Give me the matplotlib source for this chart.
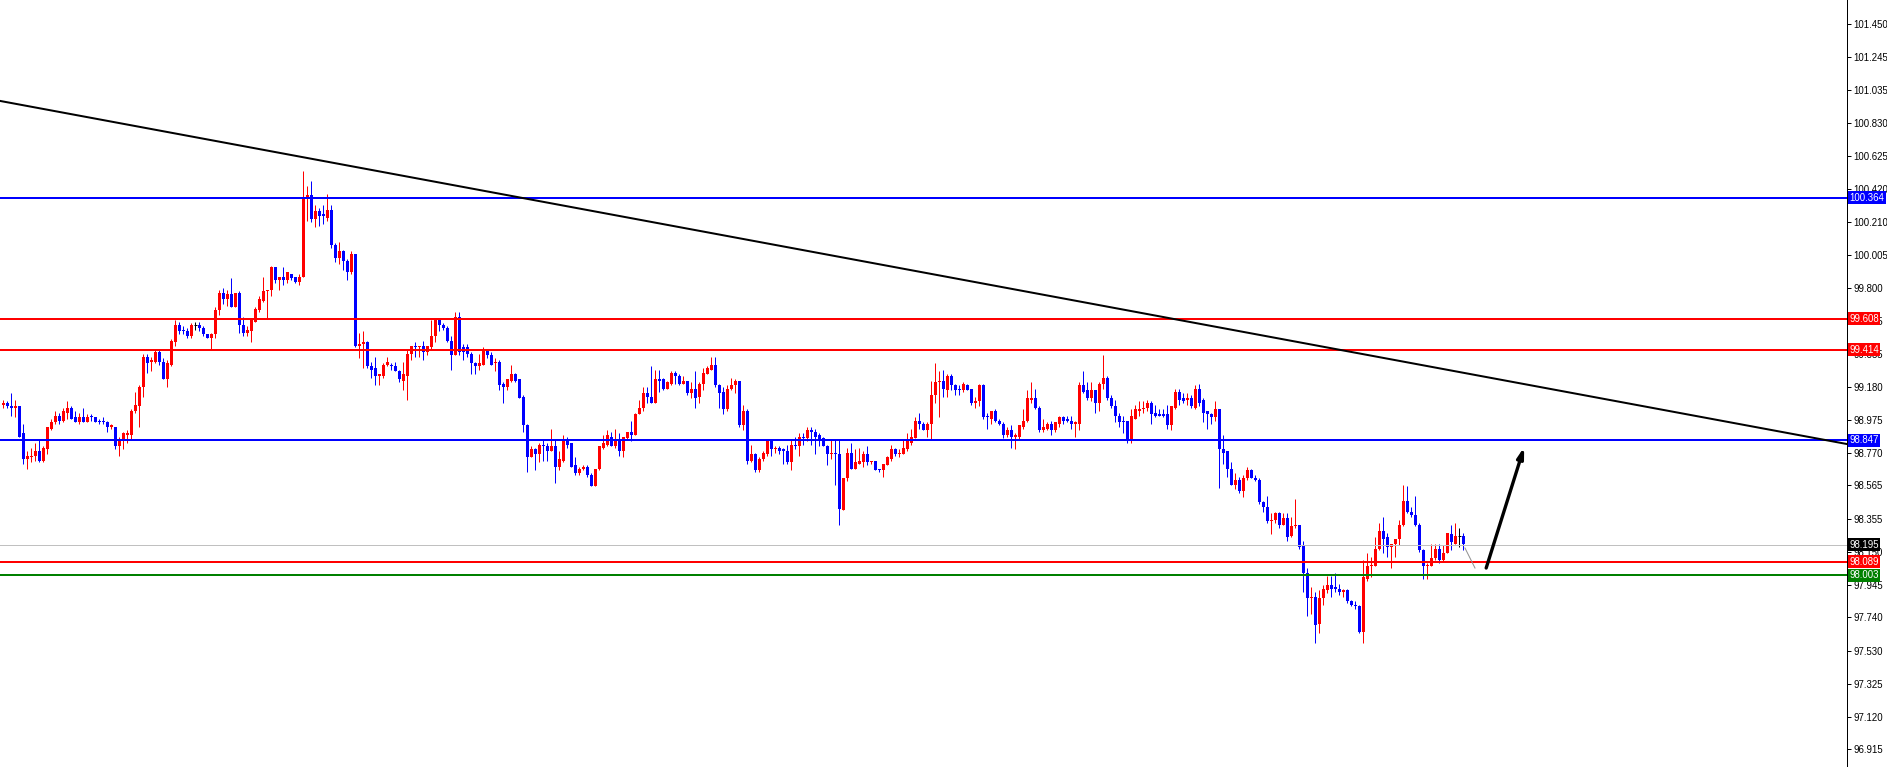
import matplotlib.pyplot as plt
from matplotlib.transforms import blended_transform_factory

# candle data, one candle per bar, oldest first
opens = [
    99.07, 99.08, 99.06, 99.05, 99.06, 98.89, 98.73, 98.74, 98.75, 98.78,
    98.72, 98.79, 98.92, 98.96, 99.00, 98.97, 99.02, 99.05, 98.99, 98.96,
    98.99, 98.96, 99.00, 98.99, 98.97, 98.97, 98.96, 98.93, 98.93, 98.81,
    98.85, 98.88, 98.88, 99.03, 99.06, 99.18, 99.37, 99.34, 99.34, 99.40,
    99.34, 99.23, 99.32, 99.46, 99.57, 99.54, 99.53, 99.50, 99.57, 99.57,
    99.55, 99.51, 99.49, 99.51, 99.66, 99.77, 99.73, 99.76, 99.68, 99.77,
    99.57, 99.52, 99.53, 99.59, 99.66, 99.72, 99.78, 99.79, 99.93, 99.85,
    99.87, 99.85, 99.89, 99.87, 99.84, 99.87, 100.37, 100.38, 100.23, 100.28,
    100.26, 100.24, 100.29, 100.07, 99.99, 100.03, 99.97, 99.90, 100.01, 99.44,
    99.45, 99.46, 99.31, 99.30, 99.25, 99.25, 99.32, 99.32, 99.31, 99.28,
    99.22, 99.25, 99.39, 99.44, 99.43, 99.44, 99.40, 99.43, 99.50, 99.60,
    99.57, 99.55, 99.47, 99.38, 99.62, 99.43, 99.43, 99.39, 99.33, 99.31,
    99.32, 99.41, 99.38, 99.33, 99.34, 99.20, 99.18, 99.22, 99.26, 99.23,
    99.12, 98.94, 98.74, 98.79, 98.76, 98.82, 98.81, 98.78, 98.81, 98.68,
    98.72, 98.84, 98.83, 98.69, 98.64, 98.67, 98.68, 98.63, 98.56, 98.67,
    98.80, 98.82, 98.87, 98.81, 98.84, 98.78, 98.86, 98.90, 98.88, 99.01,
    99.05, 99.14, 99.12, 99.08, 99.23, 99.23, 99.17, 99.20, 99.27, 99.25,
    99.20, 99.22, 99.14, 99.17, 99.12, 99.20, 99.26, 99.29, 99.32, 99.19,
    99.15, 99.04, 99.17, 99.19, 99.22, 98.94, 99.03, 98.72, 98.76, 98.66,
    98.73, 98.76, 98.85, 98.79, 98.80, 98.79, 98.78, 98.71, 98.82, 98.81,
    98.87, 98.86, 98.91, 98.90, 98.88, 98.86, 98.81, 98.76, 98.77, 98.76,
    98.41, 98.61, 98.77, 98.67, 98.70, 98.71, 98.76, 98.71, 98.72, 98.67,
    98.66, 98.69, 98.73, 98.79, 98.76, 98.76, 98.79, 98.83, 98.86, 98.97,
    98.95, 98.91, 98.95, 99.13, 99.21, 99.22, 99.16, 99.25, 99.19, 99.17,
    99.16, 99.19, 99.17, 99.08, 99.09, 99.19, 99.00, 98.98, 99.03, 98.97,
    98.95, 98.88, 98.91, 98.87, 98.87, 98.93, 98.97, 99.10, 99.11, 99.05,
    98.91, 98.92, 98.95, 98.91, 98.95, 98.99, 98.98, 98.97, 98.95, 98.95,
    99.19, 99.16, 99.11, 99.16, 99.08, 99.20, 99.24, 99.11, 99.06, 99.00,
    98.97, 98.97, 98.85, 98.98, 99.03, 99.04, 99.05, 99.08, 99.02, 99.01,
    99.01, 99.01, 98.94, 99.05, 99.15, 99.11, 99.10, 99.11, 99.05, 99.17,
    99.10, 99.03, 99.01, 98.99, 99.04, 98.79, 98.78, 98.67, 98.57, 98.60,
    98.53, 98.61, 98.66, 98.61, 98.60, 98.46, 98.43, 98.34, 98.35, 98.39,
    98.32, 98.36, 98.25, 98.31, 98.32, 98.19, 98.02, 97.86, 97.87, 97.70,
    97.86, 97.91, 97.94, 97.93, 97.92, 97.90, 97.91, 97.84, 97.82, 97.81,
    97.65, 97.98, 98.06, 98.06, 98.17, 98.28, 98.24, 98.18, 98.20, 98.23,
    98.32, 98.47, 98.40, 98.38, 98.32, 98.16, 98.06, 98.06, 98.11, 98.17,
    98.10, 98.14, 98.26, 98.20, 98.25, 98.25,
]
highs = [
    99.10, 99.09, 99.14, 99.10, 99.06, 98.95, 98.78, 98.80, 98.83, 98.85,
    98.81, 98.93, 98.98, 99.03, 99.02, 99.05, 99.09, 99.06, 99.03, 99.02,
    99.05, 99.01, 99.01, 98.99, 98.98, 98.99, 98.97, 98.95, 98.93, 98.87,
    98.90, 98.91, 99.04, 99.15, 99.19, 99.39, 99.39, 99.37, 99.42, 99.41,
    99.36, 99.35, 99.48, 99.60, 99.59, 99.56, 99.55, 99.58, 99.59, 99.59,
    99.56, 99.51, 99.52, 99.68, 99.79, 99.80, 99.79, 99.86, 99.77, 99.78,
    99.62, 99.56, 99.61, 99.68, 99.75, 99.87, 99.79, 99.94, 99.93, 99.87,
    99.93, 99.90, 99.89, 99.87, 99.89, 100.53, 100.44, 100.47, 100.32, 100.30,
    100.32, 100.39, 100.32, 100.08, 100.09, 100.04, 99.98, 100.03, 100.01, 99.52,
    99.53, 99.47, 99.34, 99.37, 99.26, 99.33, 99.37, 99.33, 99.34, 99.29,
    99.34, 99.41, 99.44, 99.46, 99.44, 99.47, 99.44, 99.60, 99.60, 99.61,
    99.58, 99.56, 99.50, 99.65, 99.65, 99.45, 99.45, 99.40, 99.34, 99.39,
    99.43, 99.42, 99.40, 99.36, 99.35, 99.21, 99.23, 99.32, 99.27, 99.23,
    99.13, 98.95, 98.81, 98.80, 98.83, 98.85, 98.83, 98.92, 98.85, 98.78,
    98.88, 98.87, 98.83, 98.74, 98.68, 98.69, 98.69, 98.64, 98.67, 98.81,
    98.88, 98.91, 98.90, 98.92, 98.89, 98.87, 98.90, 98.97, 99.02, 99.10,
    99.18, 99.18, 99.31, 99.29, 99.29, 99.24, 99.22, 99.28, 99.28, 99.26,
    99.25, 99.22, 99.21, 99.28, 99.21, 99.30, 99.31, 99.37, 99.37, 99.20,
    99.18, 99.19, 99.24, 99.23, 99.22, 99.07, 99.04, 98.82, 98.77, 98.74,
    98.78, 98.85, 98.85, 98.81, 98.81, 98.80, 98.82, 98.85, 98.87, 98.89,
    98.89, 98.93, 98.93, 98.92, 98.89, 98.87, 98.82, 98.85, 98.85, 98.85,
    98.61, 98.80, 98.83, 98.79, 98.80, 98.78, 98.81, 98.72, 98.72, 98.67,
    98.70, 98.75, 98.82, 98.80, 98.79, 98.85, 98.89, 98.92, 98.99, 99.02,
    98.96, 98.96, 99.22, 99.33, 99.28, 99.29, 99.26, 99.26, 99.20, 99.19,
    99.21, 99.20, 99.17, 99.12, 99.20, 99.20, 99.02, 99.03, 99.04, 98.98,
    98.96, 98.93, 98.94, 98.89, 98.94, 99.04, 99.16, 99.21, 99.17, 99.06,
    98.98, 98.96, 98.97, 98.96, 99.00, 99.00, 99.00, 99.00, 98.97, 99.21,
    99.28, 99.21, 99.21, 99.16, 99.21, 99.38, 99.25, 99.13, 99.10, 99.02,
    99.00, 98.97, 99.04, 99.07, 99.09, 99.09, 99.10, 99.09, 99.07, 99.04,
    99.04, 99.07, 99.06, 99.17, 99.17, 99.14, 99.14, 99.13, 99.19, 99.20,
    99.11, 99.03, 99.02, 99.09, 99.04, 98.88, 98.78, 98.71, 98.64, 98.62,
    98.63, 98.68, 98.67, 98.63, 98.61, 98.47, 98.50, 98.39, 98.40, 98.40,
    98.39, 98.39, 98.37, 98.48, 98.32, 98.22, 98.05, 97.93, 97.90, 97.91,
    97.94, 98.00, 98.00, 98.02, 97.95, 97.92, 97.92, 97.85, 97.84, 97.82,
    98.10, 98.14, 98.12, 98.24, 98.33, 98.37, 98.27, 98.20, 98.23, 98.35,
    98.57, 98.56, 98.43, 98.50, 98.33, 98.17, 98.08, 98.20, 98.20, 98.20,
    98.19, 98.27, 98.32, 98.33, 98.30, 98.27,
]
lows = [
    99.05, 99.05, 99.00, 98.99, 98.87, 98.70, 98.67, 98.71, 98.72, 98.71,
    98.71, 98.76, 98.91, 98.95, 98.95, 98.96, 98.98, 98.98, 98.96, 98.95,
    98.96, 98.96, 98.97, 98.96, 98.95, 98.95, 98.90, 98.92, 98.79, 98.75,
    98.79, 98.83, 98.85, 99.02, 98.93, 99.12, 99.27, 99.28, 99.33, 99.32,
    99.23, 99.18, 99.31, 99.44, 99.51, 99.51, 99.49, 99.49, 99.54, 99.53,
    99.50, 99.49, 99.42, 99.49, 99.63, 99.70, 99.69, 99.68, 99.68, 99.52,
    99.50, 99.50, 99.46, 99.59, 99.65, 99.71, 99.61, 99.75, 99.83, 99.79,
    99.82, 99.83, 99.85, 99.83, 99.82, 99.87, 100.22, 100.21, 100.18, 100.19,
    100.20, 100.22, 100.05, 99.96, 99.95, 99.91, 99.85, 99.89, 99.43, 99.36,
    99.30, 99.30, 99.24, 99.19, 99.19, 99.24, 99.31, 99.29, 99.28, 99.21,
    99.16, 99.10, 99.35, 99.37, 99.37, 99.35, 99.38, 99.42, 99.46, 99.53,
    99.54, 99.46, 99.29, 99.38, 99.38, 99.35, 99.37, 99.26, 99.26, 99.29,
    99.32, 99.36, 99.32, 99.28, 99.16, 99.08, 99.16, 99.21, 99.21, 99.11,
    98.90, 98.65, 98.74, 98.66, 98.71, 98.72, 98.72, 98.78, 98.58, 98.66,
    98.71, 98.80, 98.68, 98.63, 98.63, 98.66, 98.62, 98.56, 98.56, 98.66,
    98.79, 98.81, 98.81, 98.80, 98.75, 98.74, 98.85, 98.84, 98.88, 99.01,
    99.03, 99.08, 99.08, 99.08, 99.15, 99.16, 99.17, 99.19, 99.20, 99.19,
    99.20, 99.13, 99.11, 99.05, 99.08, 99.16, 99.26, 99.29, 99.18, 99.05,
    99.01, 99.03, 99.16, 99.14, 98.93, 98.91, 98.70, 98.71, 98.65, 98.65,
    98.72, 98.75, 98.75, 98.77, 98.76, 98.70, 98.70, 98.66, 98.79, 98.75,
    98.82, 98.84, 98.82, 98.76, 98.81, 98.81, 98.69, 98.73, 98.57, 98.32,
    98.41, 98.59, 98.67, 98.67, 98.70, 98.68, 98.69, 98.70, 98.66, 98.65,
    98.62, 98.69, 98.72, 98.75, 98.74, 98.76, 98.78, 98.82, 98.86, 98.92,
    98.91, 98.87, 98.85, 99.08, 98.99, 99.12, 99.12, 99.16, 99.13, 99.13,
    99.15, 99.16, 99.07, 99.05, 99.06, 98.98, 98.92, 98.95, 98.96, 98.94,
    98.86, 98.87, 98.80, 98.79, 98.85, 98.92, 98.96, 99.08, 99.04, 98.90,
    98.90, 98.91, 98.88, 98.90, 98.93, 98.95, 98.96, 98.92, 98.87, 98.91,
    99.14, 99.10, 99.09, 99.02, 99.03, 99.17, 99.10, 99.05, 98.96, 98.93,
    98.89, 98.83, 98.83, 98.98, 99.00, 99.02, 99.03, 98.95, 98.99, 99.00,
    98.99, 98.92, 98.91, 99.04, 99.07, 99.08, 99.07, 99.05, 99.04, 99.06,
    98.96, 98.92, 98.95, 98.97, 98.55, 98.70, 98.62, 98.57, 98.54, 98.52,
    98.49, 98.60, 98.61, 98.59, 98.45, 98.40, 98.33, 98.26, 98.33, 98.30,
    98.32, 98.22, 98.24, 98.30, 98.17, 97.90, 97.75, 97.76, 97.58, 97.64,
    97.82, 97.89, 97.87, 97.90, 97.88, 97.87, 97.83, 97.81, 97.79, 97.64,
    97.58, 97.97, 97.99, 98.06, 98.16, 98.14, 98.12, 98.05, 98.12, 98.19,
    98.31, 98.39, 98.37, 98.31, 98.15, 97.98, 97.98, 98.06, 98.10, 98.08,
    98.09, 98.14, 98.16, 98.20, 98.18, 98.16,
]
closes = [
    99.08, 99.06, 99.05, 99.06, 98.87, 98.73, 98.75, 98.75, 98.78, 98.72,
    98.80, 98.93, 98.96, 99.00, 98.97, 99.03, 99.05, 98.98, 98.96, 98.99,
    98.96, 98.99, 98.99, 98.96, 98.96, 98.96, 98.93, 98.94, 98.81, 98.84,
    98.89, 98.89, 99.03, 99.07, 99.18, 99.37, 99.33, 99.35, 99.40, 99.34,
    99.23, 99.33, 99.47, 99.57, 99.53, 99.53, 99.50, 99.57, 99.57, 99.55,
    99.51, 99.49, 99.51, 99.66, 99.77, 99.73, 99.76, 99.68, 99.77, 99.57,
    99.52, 99.54, 99.60, 99.67, 99.73, 99.78, 99.79, 99.93, 99.85, 99.87,
    99.85, 99.90, 99.86, 99.84, 99.87, 100.37, 100.38, 100.23, 100.28, 100.25,
    100.25, 100.29, 100.07, 99.99, 100.03, 99.97, 99.90, 100.01, 99.44, 99.45,
    99.46, 99.31, 99.29, 99.25, 99.26, 99.32, 99.34, 99.31, 99.28, 99.23,
    99.26, 99.39, 99.44, 99.43, 99.44, 99.40, 99.44, 99.50, 99.60, 99.57,
    99.55, 99.47, 99.38, 99.62, 99.40, 99.40, 99.39, 99.33, 99.31, 99.33,
    99.42, 99.38, 99.32, 99.34, 99.19, 99.18, 99.23, 99.26, 99.22, 99.11,
    98.94, 98.74, 98.79, 98.76, 98.82, 98.81, 98.78, 98.81, 98.68, 98.73,
    98.84, 98.82, 98.68, 98.64, 98.67, 98.68, 98.63, 98.56, 98.67, 98.81,
    98.83, 98.88, 98.81, 98.84, 98.78, 98.87, 98.90, 98.88, 99.01, 99.05,
    99.14, 99.12, 99.08, 99.23, 99.22, 99.17, 99.21, 99.27, 99.25, 99.20,
    99.22, 99.14, 99.17, 99.11, 99.20, 99.27, 99.30, 99.32, 99.19, 99.14,
    99.04, 99.17, 99.19, 99.22, 98.94, 99.03, 98.72, 98.76, 98.66, 98.73,
    98.77, 98.85, 98.79, 98.80, 98.78, 98.78, 98.71, 98.82, 98.81, 98.87,
    98.86, 98.91, 98.90, 98.87, 98.85, 98.81, 98.76, 98.77, 98.76, 98.42,
    98.61, 98.77, 98.67, 98.71, 98.72, 98.76, 98.71, 98.72, 98.66, 98.66,
    98.70, 98.74, 98.79, 98.76, 98.77, 98.80, 98.84, 98.87, 98.97, 98.95,
    98.91, 98.95, 99.13, 99.21, 99.22, 99.17, 99.25, 99.19, 99.16, 99.16,
    99.20, 99.16, 99.08, 99.09, 99.19, 98.99, 98.99, 99.03, 98.97, 98.95,
    98.88, 98.91, 98.87, 98.88, 98.94, 98.97, 99.11, 99.11, 99.05, 98.91,
    98.93, 98.95, 98.91, 98.96, 98.99, 98.97, 98.97, 98.95, 98.96, 99.19,
    99.15, 99.11, 99.16, 99.08, 99.20, 99.24, 99.11, 99.06, 99.00, 98.96,
    98.96, 98.85, 99.00, 99.04, 99.04, 99.05, 99.08, 99.01, 99.00, 99.00,
    99.00, 98.94, 99.06, 99.15, 99.10, 99.09, 99.11, 99.06, 99.17, 99.08,
    99.02, 99.01, 98.99, 99.04, 98.79, 98.77, 98.67, 98.57, 98.60, 98.53,
    98.61, 98.66, 98.61, 98.60, 98.46, 98.43, 98.34, 98.35, 98.39, 98.32,
    98.36, 98.24, 98.31, 98.32, 98.18, 98.02, 97.86, 97.87, 97.69, 97.86,
    97.92, 97.94, 97.92, 97.92, 97.90, 97.91, 97.84, 97.82, 97.81, 97.65,
    97.99, 98.06, 98.07, 98.17, 98.28, 98.23, 98.18, 98.20, 98.23, 98.32,
    98.47, 98.40, 98.38, 98.32, 98.16, 98.06, 98.07, 98.11, 98.17, 98.10,
    98.14, 98.27, 98.21, 98.25, 98.25, 98.20,
]

# horizontal levels drawn on the chart
level_prices = [100.364, 99.608, 99.414, 98.847, 98.195, 98.089, 98.003]
level_colors = ['#0000ff', '#ff0000', '#ff0000', '#0000ff', '#c0c0c0', '#ff0000', '#008000']
label_colors = ['#0000ff', '#ff0000', '#ff0000', '#0000ff', '#000000', '#ff0000', '#008000']

# price scale labels
tick_values = [101.450, 101.245, 101.035, 100.830, 100.625, 100.420, 100.210,
               100.005, 99.800, 99.595, 99.385, 99.180, 98.975, 98.770, 98.565,
               98.355, 98.150, 97.945, 97.740, 97.530, 97.325, 97.120, 96.915]

# trend line and drawn projection (bar index, price)
trend_x = [-0.8, 460.9]
trend_y = [100.969, 98.824]
dip_x = [365.4, 367.9]
dip_y = [98.174, 98.049]
arrow_from = (370.7, 98.049)
arrow_to = (380.2, 98.805)

plt.rcParams['font.family'] = ['Liberation Sans', 'DejaVu Sans']

fig = plt.figure(figsize=(18.87, 7.67), dpi=100)
ax = fig.add_axes([0, 0, 1847 / 1887, 1])

px = 72 / 100  # one pixel in points
for i in range(len(opens)):
    o, h, l, c = opens[i], highs[i], lows[i], closes[i]
    if c > o:
        col = '#ff0000'
    elif c < o:
        col = '#0000ff'
    else:
        col = '#000000'
    ax.vlines(i, l, h, color=col, lw=px, zorder=2)
    if c == o:
        ax.hlines(o, i - 0.4, i + 0.4, color=col, lw=px, zorder=2)
    else:
        body = max(abs(c - o), 0.006)
        ax.bar(i, body, bottom=min(o, c), width=0.75, color=col,
               linewidth=0, zorder=2)

for p, col in zip(level_prices, level_colors):
    w = 1 * px if col == '#c0c0c0' else 2 * px
    ax.axhline(p, color=col, lw=w, zorder=3)

ax.plot(trend_x, trend_y, color='black', lw=2 * px, zorder=4)
ax.plot(dip_x, dip_y, color='#909090', lw=px, zorder=4)
ax.annotate('', xy=arrow_to, xytext=arrow_from,
            arrowprops=dict(arrowstyle='-|>,head_length=0.6,head_width=0.18',
                            color='black', lw=2.4, shrinkA=0, shrinkB=0),
            zorder=4)

ax.set_xlim(-0.825, 460.9)
ax.set_ylim(96.805, 101.600)

for s in ['left', 'top', 'bottom']:
    ax.spines[s].set_visible(False)
ax.spines['right'].set_linewidth(px)
ax.set_xticks([])
ax.yaxis.tick_right()
ax.set_yticks(tick_values)
ax.set_yticklabels([f'{v:.3f}' for v in tick_values])
ax.tick_params(axis='y', length=3, width=px, pad=1.5, labelsize=6.9,
               colors='black')

trans = blended_transform_factory(ax.transAxes, ax.transData)
for p, col in zip(level_prices, label_colors):
    ax.text(1.0012, p, f'{p:.3f}', transform=trans, ha='left', va='center',
            fontsize=6.9, color='white', zorder=5, clip_on=False,
            bbox=dict(boxstyle='square,pad=0.15', fc=col, ec='none'))

fig.savefig('out.png', dpi=100, facecolor='white')
